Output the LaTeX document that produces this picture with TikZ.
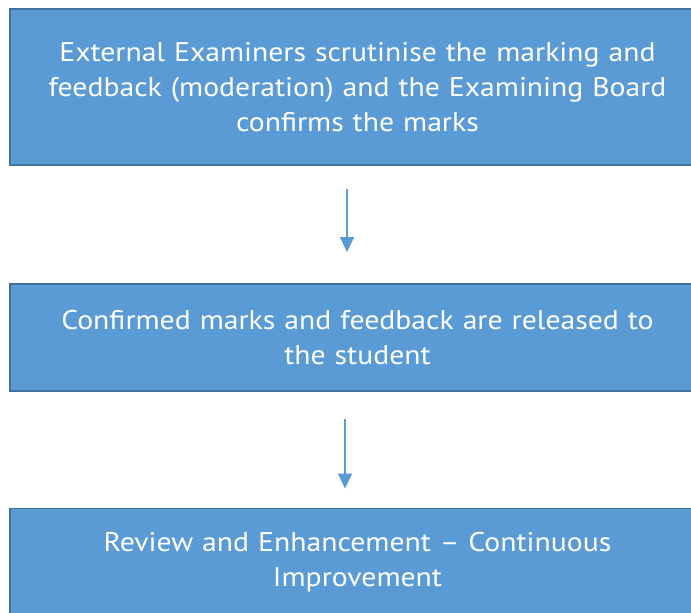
\documentclass[tikz,border=0pt]{standalone}
\usepackage{fontspec}
\setmainfont[FakeStretch=1.1]{PT Sans}
\usetikzlibrary{arrows.meta}
\definecolor{boxfill}{HTML}{5B9BD5}
\definecolor{boxline}{HTML}{41719C}
\definecolor{arrowc}{HTML}{5B9BD5}
\begin{document}
\begin{tikzpicture}[x=1pt,y=-1pt,
  flowbox/.style={draw=boxline, line width=1.8pt, fill=boxfill, text=white,
    minimum width=695pt, align=center, text width=670pt,
    font=\fontsize{27}{35}\selectfont, inner sep=0pt},
  flowarrow/.style={draw=arrowc, line width=1.5pt,
    -{Triangle[length=15pt,width=14pt]}}]
\useasboundingbox (0,0) rectangle (691,613);
\clip (0,0) rectangle (691,613);
\node[flowbox, minimum height=156pt] (b1) at (357.5,87)
  {External Examiners scrutinise the marking and\\feedback (moderation) and the Examining Board\\confirms the marks};
\node[flowbox, minimum height=107pt] (b2) at (357.5,337.5)
  {Confirmed marks and feedback are released to\\the student};
\node[flowbox, minimum height=107pt] (b3) at (357.5,562)
  {Review and Enhancement -- Continuous\\Improvement};
\coordinate (a1) at (347,0);
\coordinate (a2) at (345,0);
\draw[flowarrow, shorten <=23pt, shorten >=31pt] (b1.south -| a1) -- (b2.north -| a1);
\draw[flowarrow, shorten <=27pt, shorten >=19pt] (b2.south -| a2) -- (b3.north -| a2);
\end{tikzpicture}
\end{document}
